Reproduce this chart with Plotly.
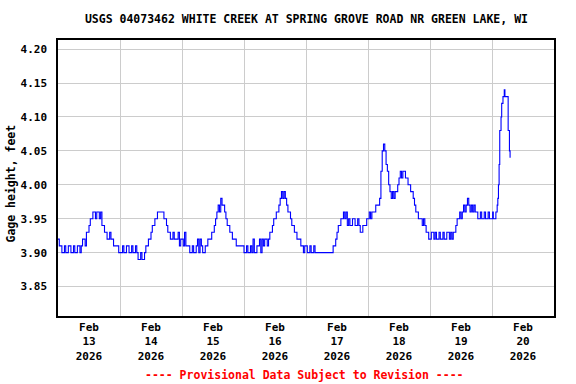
import pandas as pd
import plotly.graph_objects as go

# Gage height (feet), 30-minute readings per day, Feb 13 - Feb 19, 2026
feb13 = [3.92, 3.91, 3.91, 3.90, 3.90, 3.91, 3.90, 3.90, 3.91, 3.91, 3.90, 3.90,
         3.91, 3.90, 3.90, 3.91, 3.91, 3.90, 3.91, 3.92, 3.92, 3.91, 3.93, 3.93,
         3.94, 3.95, 3.95, 3.96, 3.96, 3.95, 3.96, 3.96, 3.95, 3.96, 3.94, 3.94,
         3.93, 3.93, 3.92, 3.92, 3.93, 3.92, 3.92, 3.91, 3.91, 3.91, 3.91, 3.90]
feb14 = [3.90, 3.90, 3.91, 3.90, 3.90, 3.91, 3.91, 3.90, 3.90, 3.91, 3.90, 3.90,
         3.91, 3.90, 3.89, 3.89, 3.90, 3.89, 3.89, 3.90, 3.91, 3.91, 3.92, 3.92,
         3.93, 3.94, 3.94, 3.95, 3.95, 3.96, 3.96, 3.96, 3.96, 3.96, 3.95, 3.95,
         3.94, 3.93, 3.93, 3.92, 3.92, 3.93, 3.92, 3.92, 3.92, 3.93, 3.91, 3.92]
feb15 = [3.92, 3.91, 3.93, 3.91, 3.91, 3.91, 3.90, 3.90, 3.91, 3.90, 3.90, 3.91,
         3.92, 3.90, 3.92, 3.91, 3.90, 3.90, 3.91, 3.91, 3.92, 3.92, 3.92, 3.93,
         3.93, 3.94, 3.95, 3.96, 3.97, 3.96, 3.98, 3.97, 3.97, 3.96, 3.95, 3.94,
         3.94, 3.93, 3.93, 3.92, 3.92, 3.92, 3.91, 3.91, 3.91, 3.91, 3.91, 3.91]
feb16 = [3.90, 3.90, 3.91, 3.90, 3.90, 3.91, 3.90, 3.92, 3.90, 3.90, 3.91, 3.91,
         3.92, 3.90, 3.92, 3.91, 3.92, 3.92, 3.91, 3.92, 3.93, 3.93, 3.94, 3.95,
         3.95, 3.96, 3.96, 3.97, 3.98, 3.99, 3.98, 3.99, 3.98, 3.97, 3.96, 3.96,
         3.95, 3.94, 3.94, 3.93, 3.93, 3.92, 3.92, 3.92, 3.91, 3.91, 3.90, 3.91]
feb17 = [3.91, 3.90, 3.90, 3.91, 3.90, 3.90, 3.91, 3.90, 3.90, 3.90, 3.90, 3.90,
         3.90, 3.90, 3.90, 3.90, 3.90, 3.90, 3.90, 3.90, 3.90, 3.91, 3.91, 3.92,
         3.93, 3.94, 3.94, 3.95, 3.95, 3.96, 3.95, 3.96, 3.94, 3.95, 3.94, 3.94,
         3.95, 3.95, 3.94, 3.94, 3.95, 3.94, 3.93, 3.93, 3.94, 3.94, 3.94, 3.95]
feb18 = [3.95, 3.96, 3.95, 3.96, 3.96, 3.96, 3.97, 3.97, 3.97, 3.98, 4.02, 4.05,
         4.06, 4.05, 4.03, 4.02, 4.00, 3.99, 3.98, 3.99, 3.98, 3.99, 3.99, 4.00,
         4.01, 4.02, 4.01, 4.02, 4.02, 4.01, 4.01, 4.00, 4.00, 3.99, 3.99, 3.98,
         3.97, 3.96, 3.96, 3.95, 3.95, 3.95, 3.94, 3.95, 3.94, 3.93, 3.93, 3.92]
feb19 = [3.92, 3.93, 3.93, 3.92, 3.93, 3.92, 3.92, 3.93, 3.92, 3.92, 3.93, 3.92,
         3.92, 3.93, 3.93, 3.92, 3.93, 3.92, 3.93, 3.93, 3.94, 3.95, 3.95, 3.96,
         3.95, 3.96, 3.97, 3.96, 3.97, 3.98, 3.97, 3.96, 3.97, 3.96, 3.97, 3.96,
         3.96, 3.95, 3.95, 3.96, 3.95, 3.95, 3.96, 3.95, 3.95, 3.96, 3.95, 3.95]
# Feb 20, 15-minute readings from 00:00 to 07:00
feb20 = [3.95, 3.96, 3.95, 3.95, 3.95, 3.95, 3.96, 3.96, 3.97, 3.98, 4.00, 4.03,
         4.08, 4.08, 4.10, 4.12, 4.12, 4.13, 4.13, 4.14, 4.13, 4.13, 4.13, 4.13,
         4.13, 4.08, 4.08, 4.05, 4.04]

half_hourly = feb13 + feb14 + feb15 + feb16 + feb17 + feb18 + feb19
t1 = pd.date_range("2026-02-13 00:00", periods=len(half_hourly), freq="30min")
t2 = pd.date_range("2026-02-20 00:00", periods=len(feb20), freq="15min")
times = list(t1) + list(t2)
values = half_hourly + feb20

title_text = "USGS 04073462 WHITE CREEK AT SPRING GROVE ROAD NR GREEN LAKE, WI"
y_title = "Gage height, feet"
y_ticks = [3.85, 3.90, 3.95, 4.00, 4.05, 4.10, 4.15, 4.20]
note = "---- Provisional Data Subject to Revision ----"

FONT = "DejaVu Sans Mono"

fig = go.Figure()
fig.add_trace(go.Scatter(
    x=times, y=values, mode="lines",
    line=dict(color="#0000FF", width=1.1, shape="hv"),
    showlegend=False, hoverinfo="skip",
))

fig.update_layout(
    width=576, height=384,
    margin=dict(l=58, r=22, t=40, b=68, autoexpand=False),
    paper_bgcolor="white", plot_bgcolor="white",
    font=dict(family=FONT, size=11, color="black", weight="bold"),
    title=dict(text=title_text, x=0.532, xanchor="center", y=1 - 19 / 384,
               yanchor="middle", yref="container",
               font=dict(family=FONT, size=11.5, color="black", weight="bold")),
    annotations=[
        dict(text=note, xref="paper", yref="paper", x=0.497, y=-(375 - 316) / 276,
             xanchor="center", yanchor="middle", showarrow=False,
             font=dict(family=FONT, size=11.5, color="#FF0000", weight="bold")),
        dict(text=y_title, xref="paper", yref="paper", x=(11 - 58) / 496, y=0.48,
             xanchor="center", yanchor="middle", showarrow=False, textangle=-90,
             font=dict(family=FONT, size=11.5, color="black", weight="bold")),
    ],
)

fig.update_xaxes(
    type="date", automargin=False,
    range=["2026-02-13 00:00", "2026-02-21 00:00"],
    tick0="2026-02-13", dtick=86400000,
    ticklabelmode="period", tickformat="%b<br>%d<br>%Y",
    showgrid=True, gridcolor="#CCCCCC", gridwidth=1,
    showline=True, linecolor="black", linewidth=1.5, mirror=True,
    ticks="", zeroline=False,
    tickfont=dict(family=FONT, size=11, color="black", weight="bold"),
)
fig.update_yaxes(
    automargin=False,
    range=[3.8066, 4.2135],
    tickvals=y_ticks, tickformat=".2f",
    showgrid=True, gridcolor="#CCCCCC", gridwidth=1,
    showline=True, linecolor="black", linewidth=1.5, mirror=True,
    ticks="", ticklabelstandoff=7, zeroline=False,
    tickfont=dict(family=FONT, size=11, color="black", weight="bold"),
)

fig.write_html("out.html", config={"displayModeBar": False},
               post_script="document.body.style.margin='0';")
